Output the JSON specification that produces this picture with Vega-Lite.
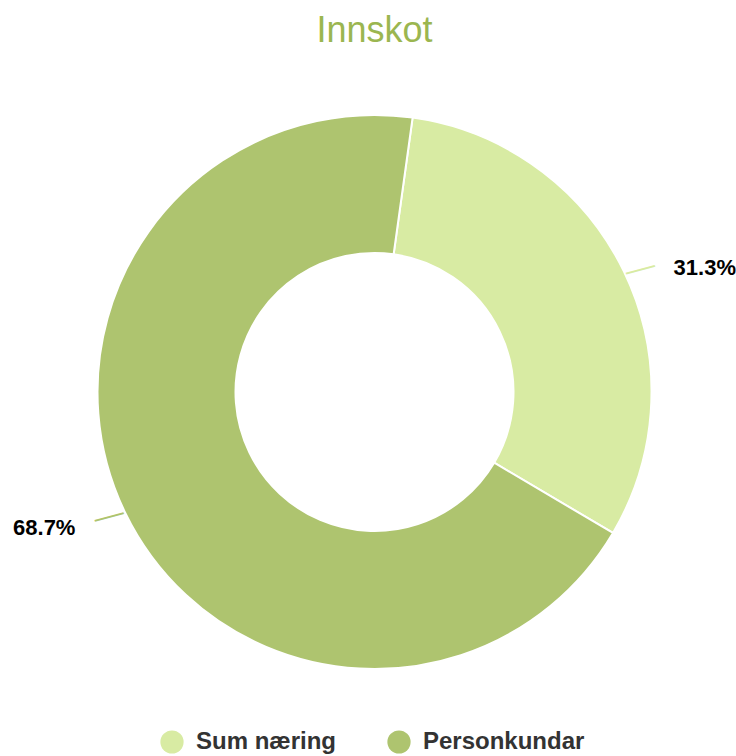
{
  "$schema": "https://vega.github.io/schema/vega-lite/v6.json",
  "autosize": "none",
  "width": 723,
  "height": 664,
  "padding": {"left": 13, "top": 60, "right": 0, "bottom": 32},
  "background": "white",
  "title": {
    "text": "Innskot",
    "font": "Liberation Sans",
    "fontSize": 36,
    "fontWeight": "normal",
    "color": "#9bb650",
    "offset": 10
  },
  "config": {"view": {"stroke": null}},
  "data": {
    "values": [
      {"kategori": "Sum næring", "andel": 0.313},
      {"kategori": "Personkundar", "andel": 0.687}
    ]
  },
  "encoding": {
    "color": {
      "field": "kategori",
      "type": "nominal",
      "sort": ["Sum næring", "Personkundar"],
      "scale": {"domain": ["Sum næring", "Personkundar"], "range": ["#d8eba3", "#aec46f"]},
      "legend": {
        "orient": "none",
        "legendX": 147,
        "legendY": 670,
        "direction": "horizontal",
        "title": null,
        "symbolType": "circle",
        "symbolSize": 540,
        "symbolStrokeWidth": 0,
        "labelFont": "Liberation Sans",
        "labelFontSize": 24,
        "labelFontWeight": "bold",
        "labelColor": "#333333",
        "labelOffset": 12,
        "labelLimit": 400,
        "columnPadding": 50
      }
    },
    "order": {"field": "kategori", "sort": "descending"}
  },
  "layer": [
    {
      "mark": {"type": "arc", "outerRadius": 277, "innerRadius": 139, "stroke": "white", "strokeWidth": 2},
      "encoding": {
        "theta": {"field": "andel", "type": "quantitative", "stack": true, "scale": {"range": [0.138, 6.4212]}}
      }
    },
    {
      "mark": {"type": "text", "text": "—", "radius": 293, "font": "Liberation Sans", "fontSize": 30, "angle": 345, "align": "center", "baseline": "middle"},
      "encoding": {
        "theta": {"field": "andel", "type": "quantitative", "stack": true, "scale": {"range": [0.152, 6.4352]}}
      }
    },
    {
      "mark": {"type": "text", "radius": 355, "dy": 6, "font": "Liberation Sans", "fontSize": 22, "fontWeight": "bold", "color": "#000000", "align": "center", "baseline": "middle"},
      "encoding": {
        "theta": {"field": "andel", "type": "quantitative", "stack": true, "scale": {"range": [0.212, 6.4952]}},
        "text": {"field": "andel", "type": "quantitative", "format": ".1%"},
        "color": {"value": "#000000"}
      }
    }
  ],
  "resolve": {"scale": {"theta": "independent"}}
}
